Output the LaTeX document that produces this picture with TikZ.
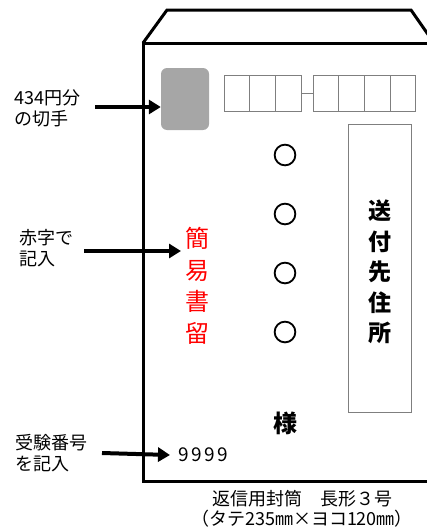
\documentclass[tikz,border=0pt]{standalone}
\usepackage{fontspec}
\setmainfont{Noto Sans CJK JP}
\newfontfamily\ringfont[FakeBold=4]{Noto Sans CJK JP}
\newfontfamily\numfont[LetterSpace=14]{Noto Sans CJK JP}
\usetikzlibrary{arrows.meta}
\definecolor{stampgray}{HTML}{A6A6A6}
\definecolor{boxgray}{HTML}{7F7F7F}
\tikzset{
  envline/.style={line width=3pt, line join=miter},
  pointer/.style={line width=4pt, -{Triangle[length=12pt,width=14pt]}},
  note/.style={align=left, inner sep=0pt, font=\fontsize{18}{21}\selectfont},
  zipbox/.style={draw=boxgray, line width=0.9pt, minimum width=25.7pt, minimum height=36pt, inner sep=0pt, outer sep=0pt, anchor=north west},
  vtext/.style={align=center, inner sep=0pt},
  ring/.style={inner sep=0pt, font=\fontsize{24}{24}\ringfont}
}
\begin{document}
\begin{tikzpicture}[x=1pt,y=-1pt]
        \useasboundingbox (0,0) rectangle (427,530);
        \clip (0,0) rectangle (427,530);
        % envelope body and flap
        \draw[envline] (440,481) -| (143,43) -- (440,43);
        \draw[envline] (143,43) -- (167,10) -- (411,10) -- (434,43);
        % stamp
        \node[fill=stampgray, rounded corners=6pt, minimum width=48pt, minimum height=62pt, inner sep=0pt] (stamp) at (185,99) {};
        % postal code boxes
        \foreach \i in {0,1,2} {
            \node[zipbox] (zipA\i) at (224+25.7*\i,75) {};
        }
        \foreach \i in {0,1,2,3} {
            \node[zipbox] (zipB\i) at (313+25.7*\i,75) {};
        }
        \draw[boxgray, line width=0.9pt] (zipA2.east) -- (zipB0.west);
        % address box
        \node[draw=boxgray, line width=0.9pt, minimum width=63pt, minimum height=288pt, inner sep=0pt] (addrbox) at (379.5,268) {};
        \node[vtext, font=\fontsize{23}{30.5}\selectfont\bfseries] (addr) at (380,272) {送\\付\\先\\住\\所};
        % name circles
        \foreach \y [count=\k] in {155,214,273,332} {
            \node[ring] (circ\k) at (285,\y) {○};
        }
        \node[inner sep=0pt, font=\fontsize{24}{24}\selectfont\bfseries] (sama) at (285,423) {様};
        % red note
        \node[vtext, text=red, font=\fontsize{24}{31.5}\selectfont] (kani) at (197,286) {簡\\易\\書\\留};
        % number
        \node[inner sep=0pt, anchor=west, font=\fontsize{19}{19}\numfont] (num) at (178,455) {9999};
        % labels on the left
        \node[note, anchor=west] (stamplbl) at (14,108) {434円分\\の切手};
        \node[note, anchor=west] (redlbl) at (19,248) {赤字で\\記入};
        \node[note, anchor=west] (numlbl) at (15,453) {受験番号\\を記入};
        % arrows
        \coordinate (s1) at (95,107);
        \draw[pointer] (s1) -- (s1 -| stamp.west);
        \coordinate (r1) at (84,251);
        \coordinate (r2) at (181,251);
        \draw[pointer] (r1) -- (r2);
        \coordinate (n1) at (102,453);
        \draw[pointer] (n1) -- ([xshift=-8pt]num.west);
        % caption
        \node[align=center, inner sep=0pt, font=\fontsize{18}{19.5}\selectfont] (caption) at (302,509) {返信用封筒　長形３号\\（タテ235㎜×ヨコ120㎜）};
\end{tikzpicture}
\end{document}
